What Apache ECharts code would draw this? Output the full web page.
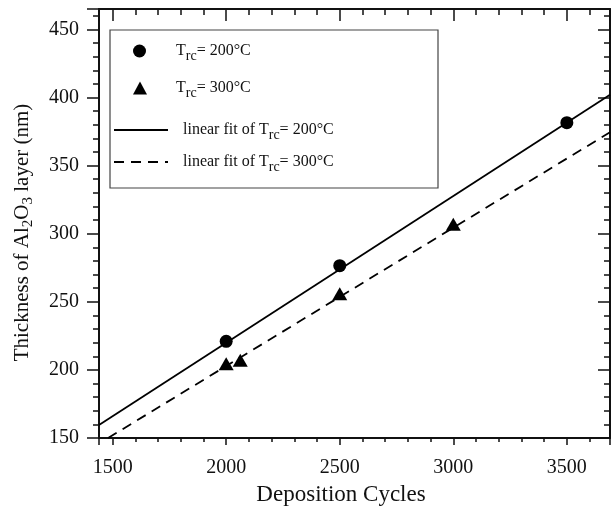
<!DOCTYPE html>
<html>
	<head>
		<meta charset="utf-8">
		<title></title>
		<style type="text/css">
			* {
				margin: 0;
				padding: 0;
			}

			#main {
				width: 614px;
				height: 506px;
				background: #fff;
			}
		</style>
		<script src="https://cdn.jsdelivr.net/npm/echarts@6/dist/echarts.min.js"></script>
	</head>
	<body>
		<div id="main"></div>
	</body>
	<script type="text/javascript">
		// data
		var cycles200 = [2000, 2500, 3500];
		var thick200 = [221, 276.5, 381.5];
		var cycles300 = [2000, 2062, 2500, 3000];
		var thick300 = [204.5, 207, 256, 307];
		// fit lines, end points
		var fit200X = [1440, 3690];
		var fit200Y = [159.5, 402];
		var fit300X = [1480, 3690];
		var fit300Y = [150, 374.5];

		var xMin = 1440, xMax = 3690;
		var yMin = 150, yMax = 465;

		function pairs(xs, ys) {
			var out = [];
			for (var i = 0; i < xs.length; i++) {
				out.push([xs[i], ys[i]]);
			}
			return out;
		}

		var font = 'Liberation Serif';
		var ink = '#111';

		var legendText = {
			'T200': '{sp|}{m|T}{s|rc}{m|= 200°C}',
			'T300': '{sp|}{m|T}{s|rc}{m|= 300°C}',
			'fit200': '{sp|}{m|linear fit of T}{s|rc}{m|= 200°C}',
			'fit300': '{sp|}{m|linear fit of T}{s|rc}{m|= 300°C}'
		};

		function legendRich(gap) {
			return {
				sp: { width: gap },
				m: { fontFamily: font, fontSize: 16, color: ink, lineHeight: 24 },
				s: { fontFamily: font, fontSize: 14, color: ink, lineHeight: 9, verticalAlign: 'bottom' }
			};
		}

		function oneLegend(name, left, top, w, gap, isLine) {
			return {
				data: [name],
				left: left,
				top: top,
				orient: 'vertical',
				padding: 0,
				itemWidth: w,
				itemHeight: 13,
				selectedMode: false,
				// line entries: no marker on the line
				itemStyle: isLine ? { opacity: 0 } : { opacity: 1 },
				formatter: function(n) { return legendText[n]; },
				textStyle: { rich: legendRich(gap) }
			};
		}

		var chart = echarts.init(document.getElementById('main'));

		var option = {
			animation: false,
			backgroundColor: '#fff',
			grid: { left: 99, right: 4, top: 9, bottom: 68, outerBoundsMode: 'none' },
			graphic: [{
				type: 'rect',
				shape: { x: 110, y: 30, width: 328, height: 158 },
				style: { fill: 'none', stroke: '#444', lineWidth: 1.2 },
				z: 10
			}],
			legend: [
				oneLegend('T200', 133, 43, 13, 25, false),
				oneLegend('T300', 133, 80, 14, 24, false),
				oneLegend('fit200', 113, 122, 54, 10, true),
				oneLegend('fit300', 113, 154, 54, 10, true)
			],
			xAxis: [{
				type: 'value',
				min: xMin,
				max: xMax,
				splitNumber: 5,
				position: 'bottom',
				name: 'Deposition Cycles',
				nameLocation: 'middle',
				nameGap: 45,
				nameTextStyle: { fontFamily: font, fontSize: 23, color: ink, padding: [0, 27, 0, 0] },
				axisLine: { onZero: false, lineStyle: { color: ink, width: 2 } },
				axisTick: { length: 7, lineStyle: { color: ink, width: 1.5 } },
				minorTick: { show: true, splitNumber: 5, length: 4, lineStyle: { color: ink, width: 1.5 } },
				axisLabel: {
					fontFamily: font, fontSize: 20, color: ink, margin: 20,
					showMinLabel: false, showMaxLabel: false,
					formatter: function(v) { return String(v); }
				},
				splitLine: { show: false }
			}, {
				type: 'value',
				min: xMin,
				max: xMax,
				splitNumber: 5,
				position: 'top',
				axisLine: { onZero: false, lineStyle: { color: ink, width: 2 } },
				axisTick: { inside: true, length: 12, lineStyle: { color: ink, width: 1.5 } },
				minorTick: { show: true, splitNumber: 5, length: 6, lineStyle: { color: ink, width: 1.5 } },
				axisLabel: { show: false },
				splitLine: { show: false }
			}],
			yAxis: [{
				type: 'value',
				min: yMin,
				max: yMax,
				splitNumber: 5,
				position: 'left',
				name: '{m|Thickness of Al}{s|2}{m|O}{s|3}{m| layer (nm)}',
				nameLocation: 'middle',
				nameRotate: 90,
				nameGap: 63,
				nameTextStyle: {
					padding: [0, 18, 0, 0],
					rich: {
						m: { fontFamily: font, fontSize: 21, color: ink, lineHeight: 28 },
						s: { fontFamily: font, fontSize: 15, color: ink, lineHeight: 12, verticalAlign: 'bottom' }
					}
				},
				axisLine: { onZero: false, lineStyle: { color: ink, width: 2 } },
				axisTick: { length: 12, lineStyle: { color: ink, width: 1.5 } },
				minorTick: { show: true, splitNumber: 5, length: 6, lineStyle: { color: ink, width: 1.5 } },
				axisLabel: { fontFamily: font, fontSize: 20, color: ink, margin: 20, showMaxLabel: false },
				splitLine: { show: false }
			}, {
				type: 'value',
				min: yMin,
				max: yMax,
				splitNumber: 5,
				position: 'right',
				axisLine: { onZero: false, lineStyle: { color: ink, width: 2 } },
				axisTick: { inside: true, length: 12, lineStyle: { color: ink, width: 1.5 } },
				minorTick: { show: true, splitNumber: 5, length: 6, lineStyle: { color: ink, width: 1.5 } },
				axisLabel: { show: false },
				splitLine: { show: false }
			}],
			series: [{
				name: 'T200',
				type: 'scatter',
				symbol: 'circle',
				symbolSize: 13,
				itemStyle: { color: '#000', opacity: 1 },
				data: pairs(cycles200, thick200),
				z: 5
			}, {
				name: 'T300',
				type: 'scatter',
				symbol: 'triangle',
				symbolSize: [15, 13],
				itemStyle: { color: '#000', opacity: 1 },
				data: pairs(cycles300, thick300),
				z: 5
			}, {
				name: 'fit200',
				type: 'line',
				symbol: 'none',
				lineStyle: { color: '#000', width: 1.8 },
				itemStyle: { color: '#000' },
				data: pairs(fit200X, fit200Y)
			}, {
				name: 'fit300',
				type: 'line',
				symbol: 'none',
				lineStyle: { color: '#000', width: 1.8, type: [10, 7] },
				itemStyle: { color: '#000' },
				data: pairs(fit300X, fit300Y)
			}]
		};

		chart.setOption(option);
	</script>
</html>
